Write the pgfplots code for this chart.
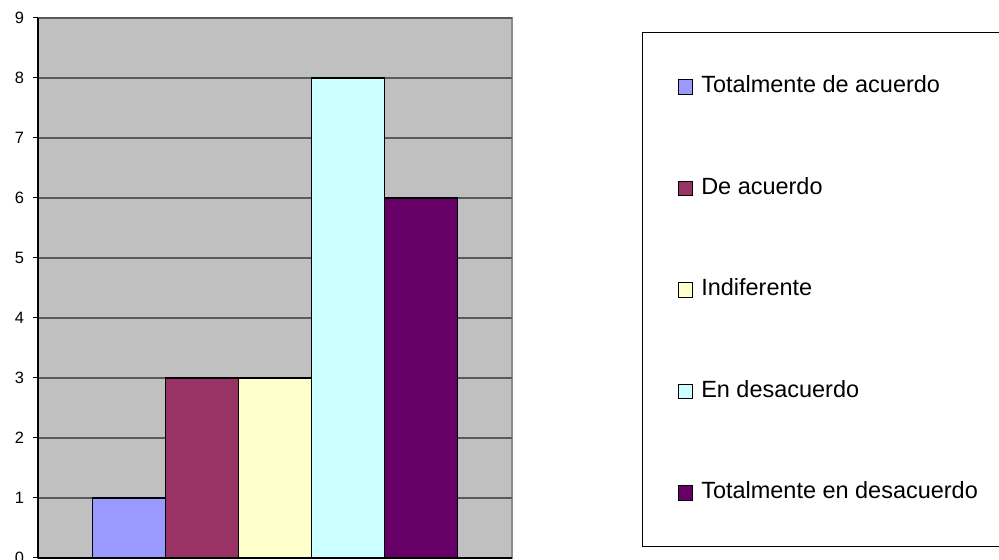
\documentclass[border=0pt]{standalone}
\usepackage{pgfplots}
\pgfplotsset{compat=1.18}
\usepackage{fontspec}
\setmainfont{Liberation Sans}
\definecolor{cA}{HTML}{9999FF}
\definecolor{cB}{HTML}{993366}
\definecolor{cC}{HTML}{FFFFCC}
\definecolor{cD}{HTML}{CCFFFF}
\definecolor{cE}{HTML}{660066}
\definecolor{bgc}{HTML}{C0C0C0}
\definecolor{gridc}{HTML}{5A5A5A}
\definecolor{borderc}{HTML}{8C8C8C}
\begin{document}
\begin{tikzpicture}
\path[use as bounding box] (0,0) rectangle (749.25pt,420pt);
\begin{axis}[
  at={(28.5pt,1.5pt)}, anchor=south west,
  scale only axis,
  width=355.5pt, height=405pt,
  xmin=-1, xmax=1,
  ymin=0, ymax=9,
  ytick={0,1,2,3,4,5,6,7,8,9},
  yticklabels={0,1,2,3,4,5,6,7,8,9},
  xtick=\empty,
  ybar=0pt,
  bar width=54.75pt,
  axis background/.style={fill=bgc, draw=borderc, line width=1pt},
  axis lines*=left,
  axis line style={-, black, line width=0.9pt},
  ymajorgrids,
  major grid style={gridc, line width=0.8pt},
  tick align=outside,
  major tick length=3.75pt,
  tick style={black, line width=0.75pt},
  /pgf/number format/assume math mode=true,
  yticklabel style={font=\fontsize{12.3}{14}\selectfont, inner sep=0pt, xshift=-6.5pt},
  legend image code/.code={\draw[#1, draw=black, line width=0.75pt] (0pt,-5.6pt) rectangle (11pt,5.2pt);},
  legend style={
    at={(1.2743,0.9741)}, anchor=north west,
    draw=black, line width=0.9pt, fill=white,
    font=\fontsize{17.6}{20}\selectfont,
    inner xsep=26.25pt, inner ysep=32.5pt,
    row sep=59.9pt, column sep=6pt,
    nodes={inner sep=0pt, text height=12.7pt, text depth=3.5pt},
  },
  legend cell align=left,
]
\addplot[fill=cA, draw=black, line width=1pt] coordinates {(0,1)};
\addplot[fill=cB, draw=black, line width=1pt] coordinates {(0,3)};
\addplot[fill=cC, draw=black, line width=1pt] coordinates {(0,3)};
\addplot[fill=cD, draw=black, line width=1pt] coordinates {(0,8)};
\addplot[fill=cE, draw=black, line width=1pt] coordinates {(0,6)};
\legend{Totalmente de acuerdo, De acuerdo, Indiferente, En desacuerdo, Totalmente en desacuerdo}
\end{axis}
\end{tikzpicture}
\end{document}
